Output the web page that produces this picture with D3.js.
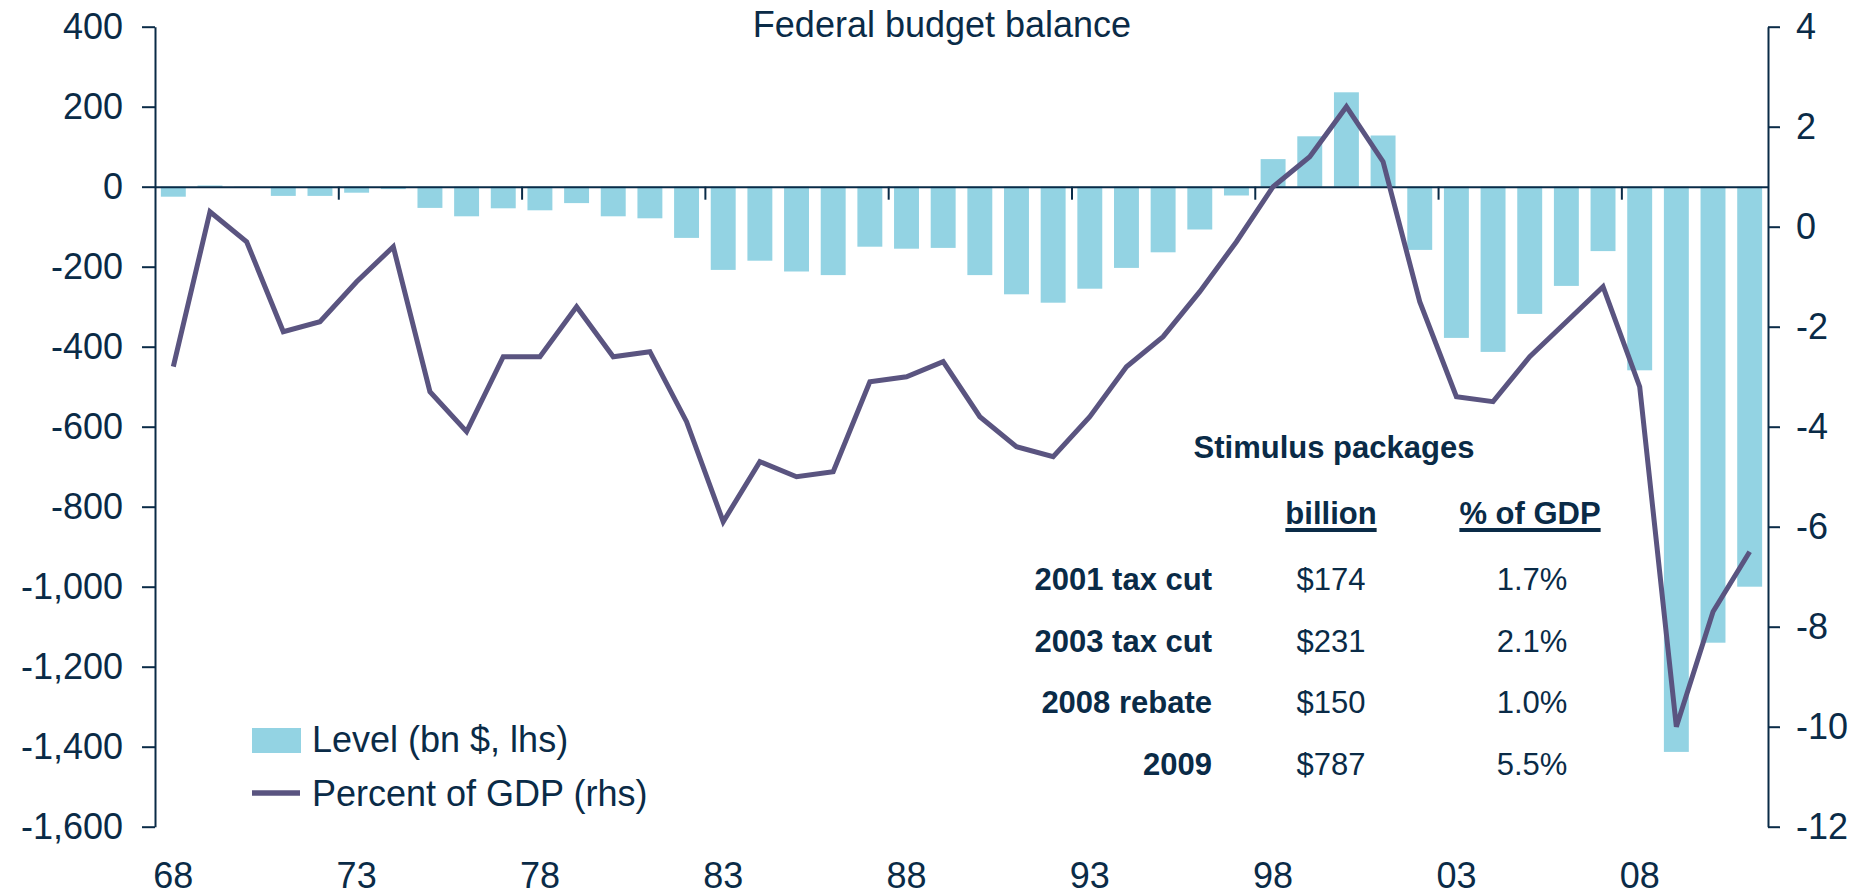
<!DOCTYPE html>
<html lang="en">
<head>
  <meta charset="utf-8">
  <title>Federal budget balance</title>
  <script src="https://cdn.jsdelivr.net/npm/d3@7"></script>
  <style>
    body {
      margin: 0;
      background: #fff;
      overflow: hidden;
    }

    text {
      font-family: "Liberation Sans", Arial, sans-serif;
      fill: #0a2b47;
    }

    .axis path,
    .axis line {
      stroke: #0a2b47;
      stroke-width: 2px;
    }
  </style>
</head>
<body>

  <svg width="1872" height="896"></svg>

  <script>

  // fiscal years shown on the category axis
  var years = [1968, 1969, 1970, 1971, 1972, 1973, 1974, 1975, 1976, 1977,
               1978, 1979, 1980, 1981, 1982, 1983, 1984, 1985, 1986, 1987,
               1988, 1989, 1990, 1991, 1992, 1993, 1994, 1995, 1996, 1997,
               1998, 1999, 2000, 2001, 2002, 2003, 2004, 2005, 2006, 2007,
               2008, 2009, 2010, 2011];

  // budget balance, bn $ (left axis, bars)
  var level = [-25, 3, -3, -23, -23, -15, -6, -53, -74, -54,
               -59, -41, -74, -79, -128, -208, -185, -212, -221, -150,
               -155, -153, -221, -269, -290, -255, -203, -164, -107, -22,
               69, 126, 236, 128, -158, -378, -413, -318, -248, -161,
               -459, -1413, -1140, -1000];

  // budget balance, percent of GDP (right axis, line)
  var pctGdp = [-2.8, 0.3, -0.3, -2.1, -1.9, -1.1, -0.4, -3.3, -4.1, -2.6,
                -2.6, -1.6, -2.6, -2.5, -3.9, -5.9, -4.7, -5.0, -4.9, -3.1,
                -3.0, -2.7, -3.8, -4.4, -4.6, -3.8, -2.8, -2.2, -1.3, -0.3,
                0.8, 1.4, 2.4, 1.3, -1.5, -3.4, -3.5, -2.6, -1.9, -1.2,
                -3.2, -10.0, -7.7, -6.5];

  var labelYears = [1968, 1973, 1978, 1983, 1988, 1993, 1998, 2003, 2008];
  var tickEdges = [1973, 1978, 1983, 1988, 1993, 1998, 2003, 2008];
  var leftTicks = [400, 200, 0, -200, -400, -600, -800, -1000, -1200, -1400, -1600];
  var rightTicks = [4, 2, 0, -2, -4, -6, -8, -10, -12];

  // stimulus table
  var packages = ["2001 tax cut", "2003 tax cut", "2008 rebate", "2009"];
  var billions = ["$174", "$231", "$150", "$787"];
  var gdpShare = ["1.7%", "2.1%", "1.0%", "5.5%"];

  var barColor = "#93d3e3",
      lineColor = "#5a5480",
      inkColor = "#0a2b47";

  var svg = d3.select("svg");

  var plotLeft = 155, plotRight = 1768, plotTop = 26.7, plotBottom = 826.7;

  var x = d3.scaleBand()
      .domain(years)
      .range([plotLeft, plotRight])
      .paddingInner(0.32)
      .paddingOuter(0.16);

  var xEdge = d3.scaleLinear()
      .domain([1968, 2012])
      .range([plotLeft, plotRight]);

  var yL = d3.scaleLinear().domain([-1600, 400]).range([plotBottom, plotTop]);
  var yR = d3.scaleLinear().domain([-12, 4]).range([plotBottom, plotTop]);

  var fmt = function(d) { return d3.format(",")(d).replace("\u2212", "-"); };

  // bars
  svg.append("g")
    .selectAll("rect")
    .data(years)
    .enter().append("rect")
      .attr("x", function(d) { return x(d); })
      .attr("width", x.bandwidth())
      .attr("y", function(d, i) { return yL(Math.max(0, level[i])); })
      .attr("height", function(d, i) { return Math.abs(yL(level[i]) - yL(0)); })
      .attr("fill", barColor);

  // left axis
  var gL = svg.append("g")
      .attr("class", "axis")
      .attr("transform", "translate(" + plotLeft + ",0)")
      .call(d3.axisLeft(yL).tickValues(leftTicks).tickFormat(fmt)
        .tickSize(13).tickSizeOuter(0).tickPadding(19));
  gL.selectAll("text")
      .attr("font-size", 36)
      .attr("dy", "0.34em")
      .attr("fill", inkColor);

  // right axis
  var gR = svg.append("g")
      .attr("class", "axis")
      .attr("transform", "translate(" + plotRight + ",0)")
      .call(d3.axisRight(yR).tickValues(rightTicks).tickFormat(fmt)
        .tickSize(12).tickSizeOuter(0).tickPadding(16));
  gR.selectAll("text")
      .attr("font-size", 36)
      .attr("dy", "0.34em")
      .attr("fill", inkColor);

  // category axis on the zero line
  var gX = svg.append("g")
      .attr("class", "axis")
      .attr("transform", "translate(0," + yL(0) + ")")
      .call(d3.axisBottom(xEdge).tickValues(tickEdges).tickFormat("")
        .tickSize(13).tickSizeOuter(0));
  gX.select(".domain").attr("stroke-width", 2.6);

  var gLab = svg.append("g")
      .attr("transform", "translate(0,888)")
      .call(d3.axisBottom(x).tickValues(labelYears)
        .tickFormat(function(d) { return String(d).slice(2); })
        .tickSize(0));
  gLab.select(".domain").remove();
  gLab.selectAll("text")
      .attr("y", 0)
      .attr("dy", 0)
      .attr("font-size", 36)
      .attr("fill", inkColor);

  // percent of GDP line
  var line = d3.line()
      .x(function(d, i) { return x(years[i]) + x.bandwidth() / 2; })
      .y(function(d) { return yR(d); });

  svg.append("path")
      .datum(pctGdp)
      .attr("d", line)
      .attr("fill", "none")
      .attr("stroke", lineColor)
      .attr("stroke-width", 5);

  // title
  svg.append("text")
      .attr("x", 942)
      .attr("y", 37)
      .attr("text-anchor", "middle")
      .attr("font-size", 36)
      .text("Federal budget balance");

  // legend
  var legend = svg.append("g");
  legend.append("rect")
      .attr("x", 252).attr("y", 728)
      .attr("width", 49).attr("height", 25)
      .attr("fill", barColor);
  legend.append("text")
      .attr("x", 312).attr("y", 752)
      .attr("font-size", 36)
      .text("Level (bn $, lhs)");
  legend.append("line")
      .attr("x1", 252).attr("x2", 300)
      .attr("y1", 793).attr("y2", 793)
      .attr("stroke", lineColor)
      .attr("stroke-width", 5.5);
  legend.append("text")
      .attr("x", 312).attr("y", 806)
      .attr("font-size", 36)
      .text("Percent of GDP (rhs)");

  // stimulus packages table
  var table = svg.append("g").attr("font-size", 31);

  table.append("text")
      .attr("x", 1334).attr("y", 458)
      .attr("text-anchor", "middle")
      .attr("font-weight", "bold")
      .text("Stimulus packages");

  [["billion", 1331], ["% of GDP", 1530]].forEach(function(h) {
    var t = table.append("text")
        .attr("x", h[1]).attr("y", 524)
        .attr("text-anchor", "middle")
        .attr("font-weight", "bold")
        .text(h[0]);
    var bb = t.node().getBBox();
    table.append("rect")
        .attr("x", bb.x).attr("y", 528)
        .attr("width", bb.width).attr("height", 4)
        .attr("fill", inkColor);
  });

  var rowY = d3.scalePoint().domain(packages).range([590, 775]);

  table.selectAll(".pkg")
    .data(packages)
    .enter().append("text")
      .attr("class", "pkg")
      .attr("x", 1212)
      .attr("y", function(d) { return rowY(d); })
      .attr("text-anchor", "end")
      .attr("font-weight", "bold")
      .text(function(d) { return d; });

  table.selectAll(".bn")
    .data(billions)
    .enter().append("text")
      .attr("class", "bn")
      .attr("x", 1331)
      .attr("y", function(d, i) { return rowY(packages[i]); })
      .attr("text-anchor", "middle")
      .text(function(d) { return d; });

  table.selectAll(".sh")
    .data(gdpShare)
    .enter().append("text")
      .attr("class", "sh")
      .attr("x", 1532)
      .attr("y", function(d, i) { return rowY(packages[i]); })
      .attr("text-anchor", "middle")
      .text(function(d) { return d; });

  </script>

</body>
</html>
